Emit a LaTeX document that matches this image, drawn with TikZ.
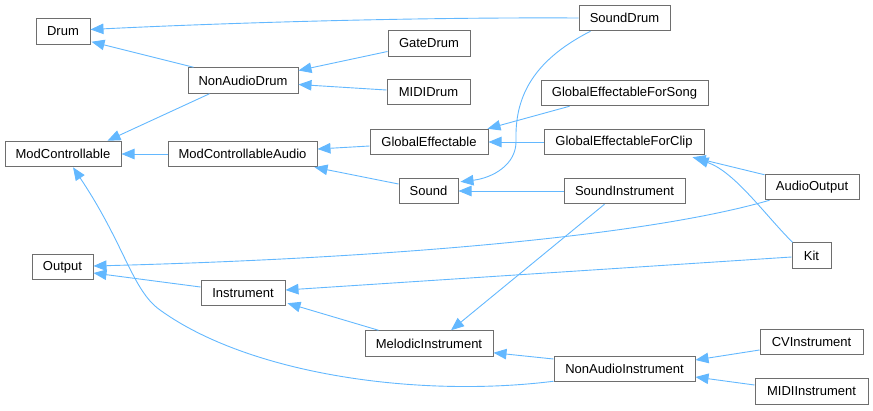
\documentclass[tikz,border=0pt]{standalone}
\usepackage{fontspec}
\setmainfont{Liberation Sans}
\usetikzlibrary{arrows.meta,calc}
\definecolor{edgec}{HTML}{63B8FF}
\definecolor{boxc}{HTML}{6E6E6E}
\begin{document}
\begin{tikzpicture}[x=1pt,y=-1pt,
  cls/.style={draw=boxc, line width=1pt, fill=white, inner sep=0pt, minimum height=25.5pt, font=\fontsize{13}{14}\selectfont},
  inh/.style={draw=edgec, line width=0.9pt, -{Triangle[length=13pt,width=10.5pt]}}]
\useasboundingbox (0,0) rectangle (873,410);
% nodes
\node[cls, minimum width=54pt]  (Drum) at (63,31.5) {Drum};
\node[cls, minimum width=110pt] (NonAudioDrum) at (243,80.5) {NonAudioDrum};
\node[cls, minimum width=116pt] (ModControllable) at (63,154) {ModControllable};
\node[cls, minimum width=149pt] (ModControllableAudio) at (242.5,154) {ModControllableAudio};
\node[cls, minimum width=82pt]  (GateDrum) at (429,43.5) {GateDrum};
\node[cls, minimum width=83pt]  (MIDIDrum) at (428.5,92) {MIDIDrum};
\node[cls, minimum width=118pt] (GlobalEffectable) at (429,142) {GlobalEffectable};
\node[cls, minimum width=91pt]  (SoundDrum) at (624.5,18) {SoundDrum};
\node[cls, minimum width=167pt] (GEForSong) at (624.5,93) {GlobalEffectableForSong};
\node[cls, minimum width=160pt] (GEForClip) at (624,142) {GlobalEffectableForClip};
\node[cls, minimum width=121pt] (SoundInstrument) at (624.5,191) {SoundInstrument};
\node[cls, minimum width=59pt]  (Sound) at (428.5,191) {Sound};
\node[cls, minimum width=94pt]  (AudioOutput) at (812,187) {AudioOutput};
\node[cls, minimum width=39pt]  (Kit) at (811.5,255.5) {Kit};
\node[cls, minimum width=61pt]  (Output) at (62.5,267) {Output};
\node[cls, minimum width=84pt]  (Instrument) at (243,293) {Instrument};
\node[cls, minimum width=128pt] (MelodicInstrument) at (429,343.5) {MelodicInstrument};
\node[cls, minimum width=141pt] (NonAudioInstrument) at (624.5,369) {NonAudioInstrument};
\node[cls, minimum width=103pt] (CVInstrument) at (811.5,342) {CVInstrument};
\node[cls, minimum width=113pt] (MIDIInstrument) at (811.5,391.5) {MIDIInstrument};
% edges
\draw[inh] (SoundDrum.west) .. controls (400,17) and (200,24) .. ($(Drum.east)+(0,-2)$);
\draw[inh] ($(NonAudioDrum.north west)+(6,0)$) -- ($(Drum.south east)+(1,-3)$);
\draw[inh] ($(GateDrum.west)+(0,8)$) -- ($(NonAudioDrum.east)+(0,-10)$);
\draw[inh] ($(MIDIDrum.west)+(0,-2)$) -- ($(NonAudioDrum.east)+(0,4)$);
\draw[inh] ($(NonAudioDrum.south west)+(22,0)$) -- ($(ModControllable.north east)+(-14,0)$);
\draw[inh] (ModControllableAudio.west) -- (ModControllable.east);
\draw[inh] ($(GlobalEffectable.west)+(0,4)$) -- ($(ModControllableAudio.east)+(0,-5)$);
\draw[inh] ($(Sound.west)+(0,-7)$) -- ($(ModControllableAudio.south east)+(-3,0)$);
\draw[inh] ($(GEForSong.south west)+(29,0)$) -- ($(GlobalEffectable.north east)+(-1,0)$);
\draw[inh] (GEForClip.west) -- (GlobalEffectable.east);
\draw[inh] ($(SoundDrum.south west)+(12,0)$) .. controls (530,62) and (515,100) .. (516,140) .. controls (517,165) and (492,178) .. ($(Sound.north east)+(2,4)$);
\draw[inh] (SoundInstrument.west) -- (Sound.east);
\draw[inh] ($(AudioOutput.north west)+(0,1)$) -- ($(GEForClip.south east)+(-12,2)$);
\draw[inh] ($(Kit.north west)+(1,0)$) .. controls (765,215) and (735,172) .. ($(GEForClip.south east)+(-9,3)$);
\draw[inh] ($(AudioOutput.south west)+(5,0)$) .. controls (650,235) and (400,258) .. ($(Output.east)+(0,-1)$);
\draw[inh] ($(Kit.west)+(0,1.5)$) -- ($(Instrument.east)+(0,-3)$);
\draw[inh] ($(Instrument.west)+(0,-6)$) -- ($(Output.east)+(0,6)$);
\draw[inh] ($(MelodicInstrument.north west)+(14,0)$) -- ($(Instrument.south east)+(2,-3)$);
\draw[inh] ($(SoundInstrument.south west)+(41,0)$) -- ($(MelodicInstrument.north)+(22,0)$);
\draw[inh] ($(NonAudioInstrument.west)+(0,-10)$) -- ($(MelodicInstrument.south east)+(0,-4)$);
\draw[inh] ($(NonAudioInstrument.south west)+(0,-1)$) .. controls (420,398) and (250,375) .. (160,310) .. controls (132,290) and (125,245) .. ($(ModControllable.south)+(10,0)$);
\draw[inh] ($(CVInstrument.west)+(0,8)$) -- ($(NonAudioInstrument.east)+(0,-9)$);
\draw[inh] ($(MIDIInstrument.west)+(0,-6.5)$) -- ($(NonAudioInstrument.east)+(0,8)$);
\end{tikzpicture}
\end{document}
